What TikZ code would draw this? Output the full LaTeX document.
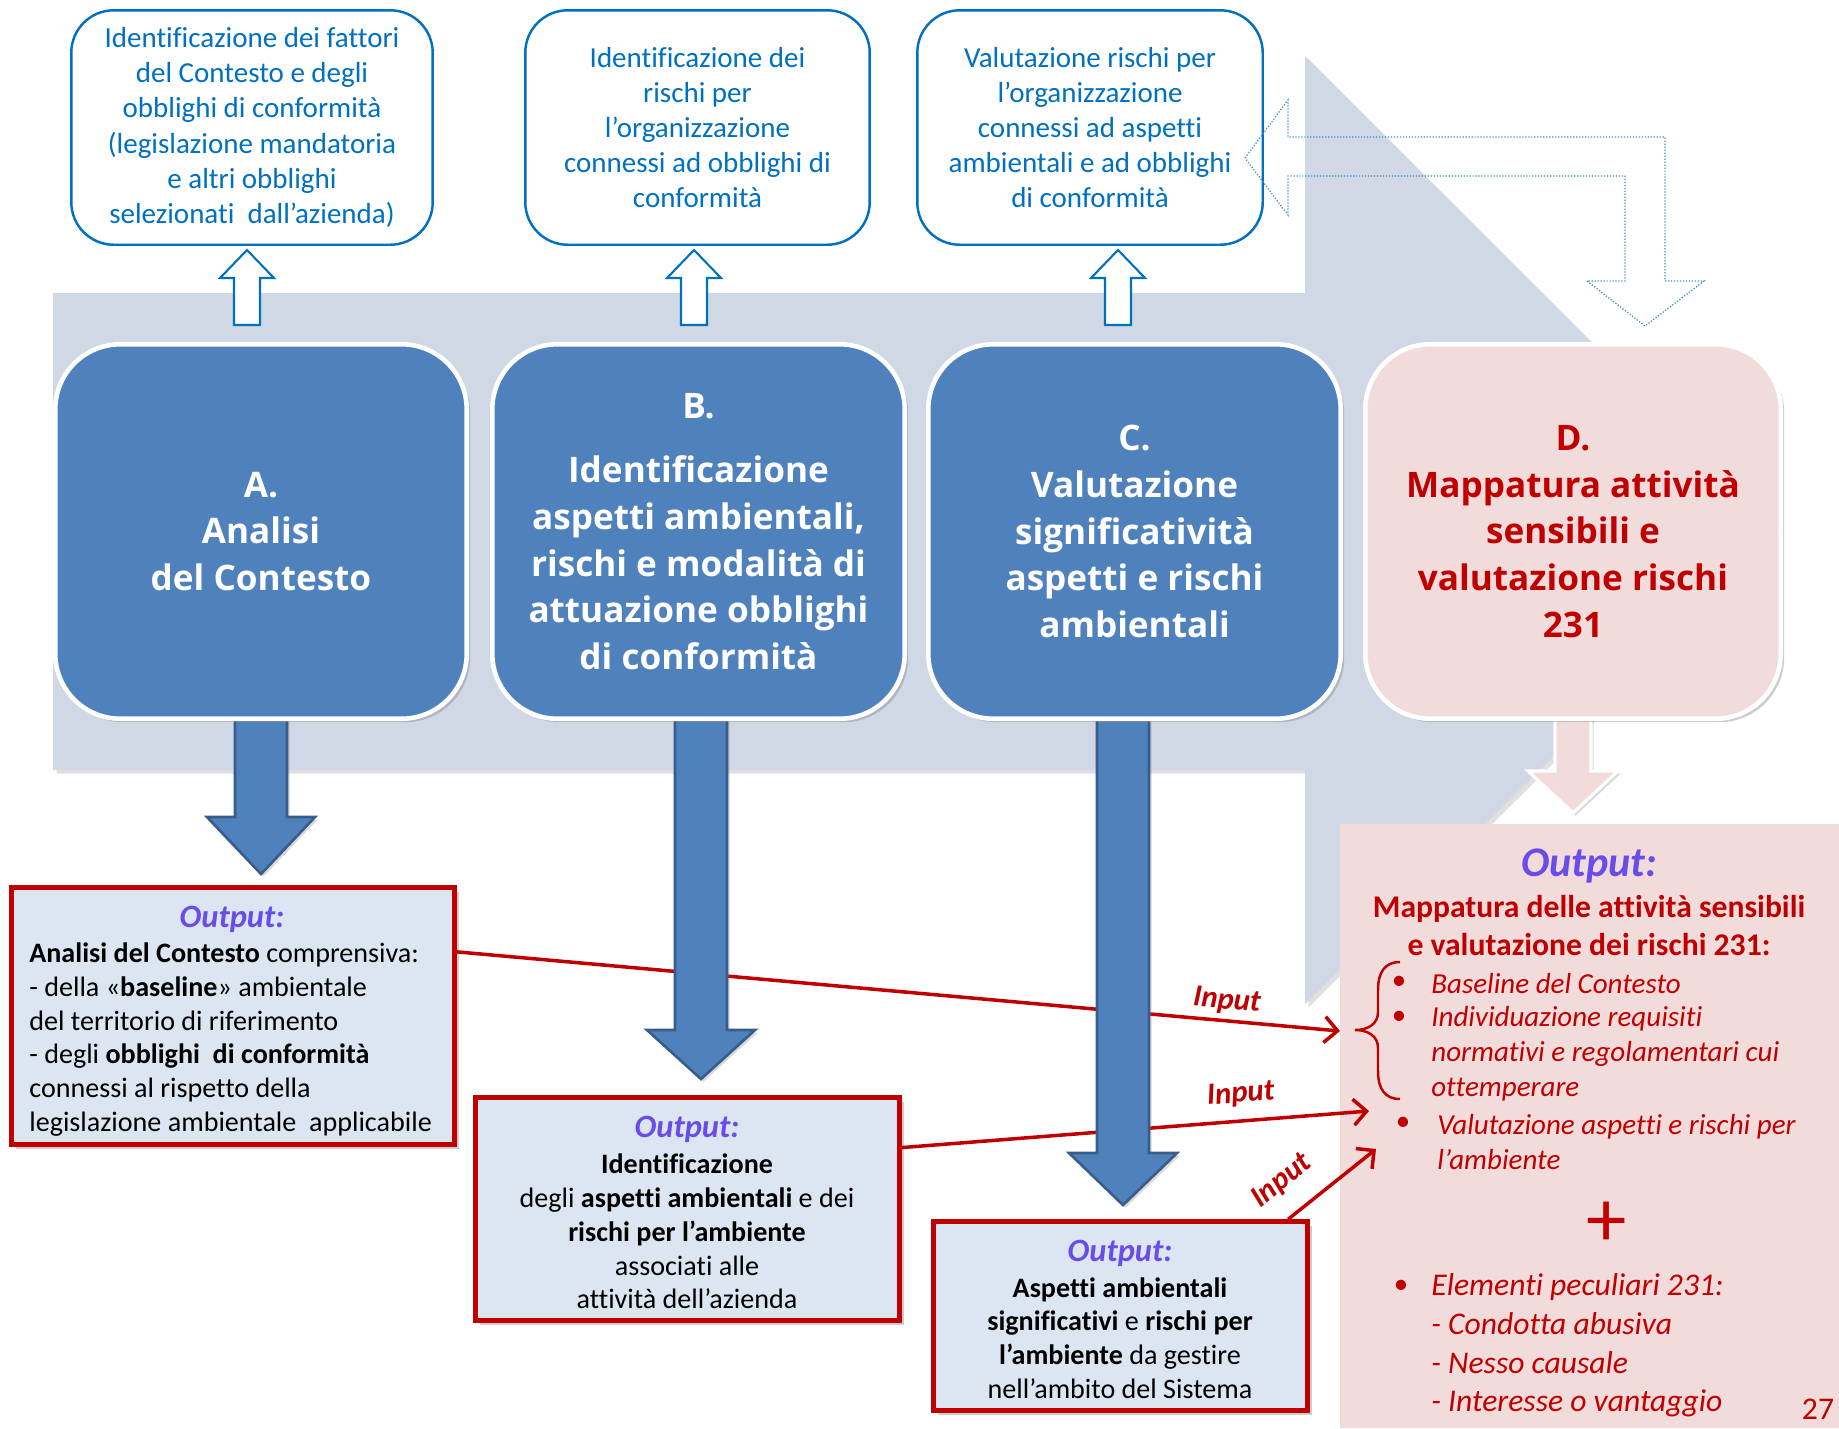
\documentclass[tikz,border=0pt]{standalone}
\usepackage{fontspec}
\setmainfont{Carlito}[Ligatures=NoCommon]
\newfontfamily\headfont{Open Sans}
\usetikzlibrary{arrows.meta,shadows}

\definecolor{boxblue}{RGB}{0,112,192}
\definecolor{phaseblue}{RGB}{79,129,189}
\definecolor{arrowedge}{RGB}{56,93,138}
\definecolor{bandgrey}{RGB}{208,216,230}
\definecolor{outfill}{RGB}{220,230,242}
\definecolor{darkred}{RGB}{192,0,0}
\definecolor{pinkfill}{RGB}{242,220,219}
\definecolor{outviolet}{RGB}{106,76,232}

\begin{document}
\begin{tikzpicture}[x=0.02cm, y=-0.02cm,
  top node/.style={draw=boxblue, line width=1.4pt, rounded corners=0.85cm, fill=white,
    minimum height=4.69cm, align=center, text=boxblue, font=\fontsize{16.5}{20}\selectfont},
  phase node/.style={draw=white, line width=2.6pt, rounded corners=1.3cm, fill=phaseblue,
    minimum height=7.49cm, align=center, text=white,
    font=\headfont\bfseries\fontsize{20}{26.6}\selectfont,
    drop shadow={opacity=0.4, shadow xshift=2pt, shadow yshift=-2pt}},
  out node/.style={draw=darkred, line width=2.6pt, fill=outfill,
    drop shadow={opacity=0.4, shadow xshift=2.5pt, shadow yshift=-2.5pt}},
  out title/.style={text=outviolet, font=\bfseries\itshape\fontsize{18.5}{22}\selectfont, inner sep=0pt},
  out text/.style={font=\fontsize{16}{19.2}\selectfont, inner sep=0pt},
  hollow up/.style={draw=boxblue, line width=1.2pt, fill=white},
  fat down/.style={draw=arrowedge, line width=1.5pt, fill=phaseblue,
    drop shadow={opacity=0.3, shadow xshift=1.5pt, shadow yshift=-1.5pt}},
  pink down/.style={draw=white, line width=1.8pt, fill=pinkfill,
    drop shadow={opacity=0.3, shadow xshift=1.5pt, shadow yshift=-1.5pt}},
  dotted bend/.style={draw=boxblue!80, line width=0.7pt, densely dotted},
  input line/.style={draw=darkred, line width=2pt, -{Straight Barb[length=2.6mm, width=5.2mm]}},
  input label/.style={text=darkred, font=\bfseries\itshape\fontsize{17.5}{20}\selectfont, inner sep=3pt},
  od text/.style={text=darkred, font=\itshape\fontsize{16.5}{19.8}\selectfont, align=left, anchor=west, inner sep=0pt},
  od dot/.style={text=darkred, font=\fontsize{16.5}{19.8}\selectfont, inner sep=0pt}]

  \useasboundingbox (0,0) rectangle (1839,1428);

  % grey band with its arrow head
  \fill[bandgrey, drop shadow={opacity=0.25, shadow xshift=2pt, shadow yshift=-2pt}]
    (53,293) -- (1305,293) -- (1305,56) -- (1780,530) -- (1305,1004) -- (1305,770) -- (53,770) -- cycle;

  % top boxes
  \node[top node, minimum width=7.23cm] (t1) at (252,127.5) {Identificazione dei fattori\\del Contesto e degli\\obblighi di conformità\\(legislazione mandatoria\\e altri obblighi\\selezionati\ \ dall’azienda)};
  \node[top node, minimum width=6.89cm] (t2) at (697.5,127.5) {Identificazione dei\\rischi per\\l’organizzazione\\connessi ad obblighi di\\conformità};
  \node[top node, minimum width=6.91cm] (t3) at (1090,127.5) {Valutazione rischi per\\l’organizzazione\\connessi ad aspetti\\ambientali e ad obblighi\\di conformità};

  \foreach \cx in {247,694,1118}
    \draw[hollow up] (\cx-13,325) -- (\cx+13,325) -- (\cx+13,278) -- (\cx+27,278) -- (\cx,250) -- (\cx-27,278) -- (\cx-13,278) -- cycle;

  % output panel of D
  \node[fill=pinkfill, minimum width=9.98cm, minimum height=12.08cm, inner sep=0pt] (od) at (1589.5,1126) {};

  % output boxes
  \node[out node, minimum width=8.86cm, minimum height=5.14cm] (oa) at (233,1016) {};
  \node[out node, minimum width=8.48cm, minimum height=4.46cm] (ob) at (687.5,1209) {};
  \node[out node, minimum width=7.48cm, minimum height=3.78cm] (oc) at (1120.5,1316) {};

  \node[out title] (oat) at (232,919.5) {Output:};
  \node[out text, align=left, anchor=west] (oab) at (29,1039.5) {\textbf{Analisi del Contesto} comprensiva:\\- della «\textbf{baseline}» ambientale\\del territorio di riferimento\\- degli \textbf{obblighi\ \ di conformità}\\connessi al rispetto della\\legislazione ambientale\ \ applicabile};
  \node[out title] (obt) at (687,1129.5) {Output:};
  \node[out text, align=center] (obb) at (687,1231.5) {\textbf{Identificazione}\\degli \textbf{aspetti ambientali} e dei\\\textbf{rischi per l’ambiente}\\associati alle\\attività dell’azienda};
  \node[out title] (oct) at (1120,1253.5) {Output:};
  \node[out text, align=center] (ocb) at (1120,1338) {\textbf{Aspetti ambientali}\\\textbf{significativi} e \textbf{rischi per}\\\textbf{l’ambiente} da gestire\\nell’ambito del Sistema};

  % inputs to D
  \coordinate (in1) at (1340,1031);
  \coordinate (in2) at (1369,1111);
  \coordinate (in3) at (1376,1149);
  \draw[input line] (oa.16) -- node[input label, pos=0.87, above, sloped] {Input} (in1);
  \draw[input line] (ob.16) -- node[input label, pos=0.73, above=4pt, sloped] {Input} (in2);
  \draw[input line] (oc.30) -- node[input label, pos=0.17, above=8pt, sloped] {Input} (in3);

  % phase arrows
  \foreach \cx/\hb/\tp in {261/817/874, 701/1030/1079, 1123/1153/1205}
    \draw[fat down] (\cx-26,715) -- (\cx+26,715) -- (\cx+26,\hb) -- (\cx+54,\hb) -- (\cx,\tp) -- (\cx-54,\hb) -- (\cx-26,\hb) -- cycle;
  \draw[pink down] (1555,715) -- (1591,715) -- (1591,771) -- (1618,771) -- (1573,813) -- (1528,771) -- (1555,771) -- cycle;

  % phases
  \node[phase node, minimum width=8.23cm] (a) at (261,531.5) {A.\\Analisi\\del Contesto};
  \node[phase node, minimum width=8.25cm] (b) at (698.5,531.5) {B.\\[10pt]Identificazione\\aspetti ambientali,\\rischi e modalità di\\attuazione obblighi\\di conformità};
  \node[phase node, minimum width=8.25cm] (c) at (1134.5,531.5) {C.\\Valutazione\\significatività\\aspetti e rischi\\ambientali};
  \node[phase node, minimum width=8.31cm, fill=pinkfill, text=darkred] (d) at (1573,531.5) {D.\\Mappatura attività\\sensibili e\\valutazione rischi\\231};

  % feedback from D to the third box
  \draw[dotted bend] (1245,158) -- (1288,100) -- (1288,137) -- (1665,137) -- (1665,281) -- (1704,281) -- (1645,326)
    -- (1587,281) -- (1625,281) -- (1625,176) -- (1288,176) -- (1288,215) -- cycle;

  % text of the D panel
  \node[out title, font=\bfseries\itshape\fontsize{24}{28}\selectfont] (odt) at (1589,866) {Output:};
  \node[text=darkred, font=\bfseries\fontsize{18}{21.3}\selectfont, align=center, inner sep=0pt] (odh) at (1589,925.5) {Mappatura delle attività sensibili\\e valutazione dei rischi 231:};
  \draw[darkred, line width=1.4pt] (1400,962) .. controls (1385,962) and (1378,972) .. (1378,990) -- (1378,1012)
    .. controls (1378,1024) and (1368,1030) .. (1355,1030) .. controls (1368,1030) and (1378,1036) .. (1378,1048)
    -- (1378,1071) .. controls (1378,1089) and (1385,1099) .. (1400,1099);
  \foreach \bx/\by in {1399/983, 1399/1018, 1403/1124, 1401/1287}
    \node[od dot] at (\bx,\by) {\textbullet};
  \node[od text] (od1) at (1431,984) {Baseline del Contesto};
  \node[od text] (od2) at (1431,1053.5) {Individuazione requisiti\\normativi e regolamentari cui\\ottemperare};
  \node[od text] (od3) at (1437,1142) {Valutazione aspetti e rischi per\\l’ambiente};
  \node[text=darkred, font=\fontsize{46}{46}\selectfont, inner sep=0pt] (plus) at (1607,1224) {+};
  \node[od text, font=\itshape\fontsize{18}{22}\selectfont] (od4) at (1431,1345.5) {Elementi peculiari 231:\\- Condotta abusiva\\- Nesso causale\\- Interesse o vantaggio};
  \node[text=darkred, font=\fontsize{18}{20}\selectfont, inner sep=0pt] (num) at (1818,1409) {27};
\end{tikzpicture}
\end{document}
